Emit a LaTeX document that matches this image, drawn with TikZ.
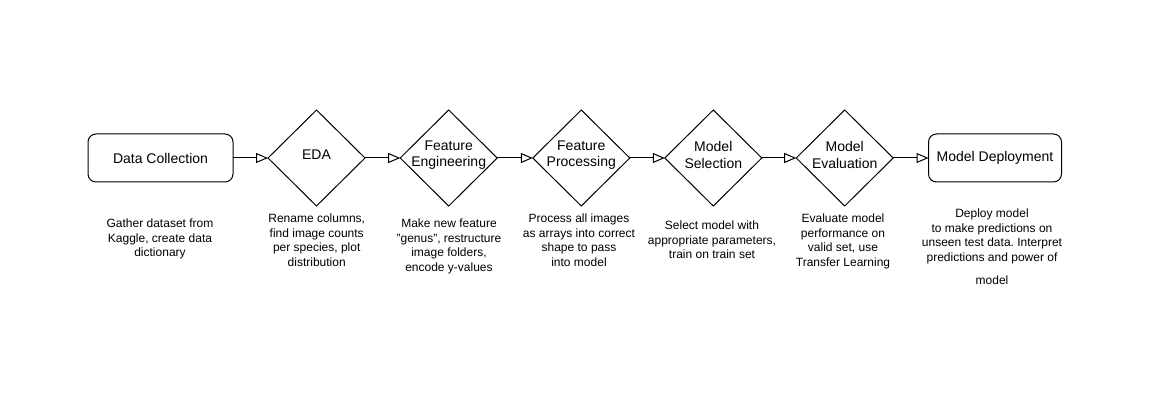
\documentclass[tikz,border=0pt]{standalone}
\usepackage{fontspec}
\setmainfont{Liberation Sans}
\usetikzlibrary{shapes.geometric,arrows.meta}
\frenchspacing

\tikzset{
    endbox/.style={draw,rounded corners=8pt,line width=1pt,minimum width=#1,minimum height=48pt,
        inner sep=0pt,outer sep=0pt,font=\fontsize{14}{17}\selectfont},
    phase/.style={draw,diamond,line width=1pt,minimum width=97pt,minimum height=96pt,inner sep=0pt,outer sep=0pt},
    phasetext/.style={align=center,inner sep=0pt,font=\fontsize{14}{16.5}\selectfont},
    note/.style={anchor=north,align=center,inner sep=0pt,font=\fontsize{12}{14.5}\selectfont},
    flow/.style={line width=1pt,-{Triangle[open,length=12pt,width=10pt]}}
}

\begin{document}
\begin{tikzpicture}[x=1pt,y=-1pt]
    \useasboundingbox (0,0) rectangle (1160,414);

    % stages
    \node[endbox=145pt] (dc) at (160.5,158) {Data Collection};
    \node[phase] (eda) at (316.5,158) {};
    \node[phase] (fe) at (448.7,158) {};
    \node[phase] (fp) at (581.3,158) {};
    \node[phase] (ms) at (713.3,158) {};
    \node[phase] (me) at (844.7,158) {};
    \node[endbox=133pt] (md) at (995,158) {Model Deployment};

    \node[phasetext] (edatxt) at ([yshift=3pt]eda.center) {EDA};
    \node[phasetext] (fetxt) at ([yshift=3pt]fe.center) {Feature\\Engineering};
    \node[phasetext] (fptxt) at ([yshift=3pt]fp.center) {Feature\\Processing};
    \node[phasetext] (mstxt) at ([yshift=3pt]ms.center) {Model\\Selection};
    \node[phasetext] (metxt) at ([yshift=3pt]me.center) {Model\\Evaluation};

    % arrows
    \draw[flow] (dc.east)--(eda.west);
    \draw[flow] (eda.east)--(fe.west);
    \draw[flow] (fe.east)--(fp.west);
    \draw[flow] (fp.east)--(ms.west);
    \draw[flow] (ms.east)--(me.west);
    \draw[flow] (me.east)--(md.west);

    % descriptions
    \node[note] (dcnote) at (160,219) {Gather dataset from\\Kaggle, create data\\dictionary};
    \node[note] (edanote) at (316.7,214) {Rename columns,\\find image counts\\per species, plot\\distribution};
    \node[note] (fenote) at (449,219) {Make new feature\\\char34genus\char34, restructure\\image folders,\\encode y-values};
    \node[note] (fpnote) at (579,214) {Process all images\\as arrays into correct\\shape to pass\\into model};
    \node[note] (msnote) at (712,221) {Select model with\\appropriate parameters,\\train on train set};
    \node[note] (menote) at (843,214) {Evaluate model\\performance on\\valid set, use\\Transfer Learning};
    \node[note] (mdnote) at (992,209) {Deploy model\\to make predictions on\\unseen test data. Interpret\\predictions and power of\\[9pt]model};
\end{tikzpicture}
\end{document}
